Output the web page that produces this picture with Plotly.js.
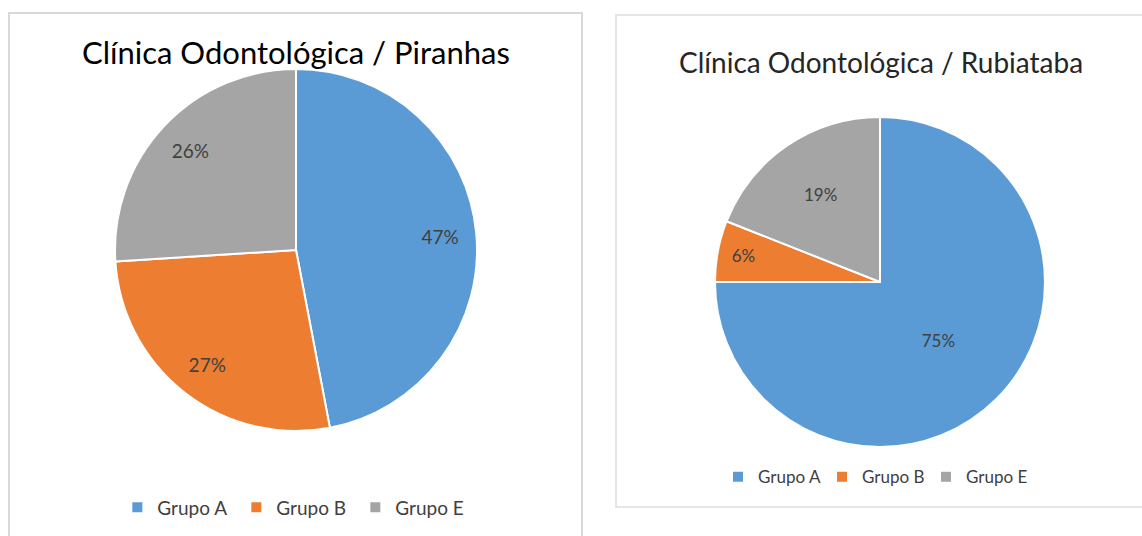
<!DOCTYPE html>
<html>
<head>
<meta charset="utf-8">
<script src="https://cdn.plot.ly/plotly-3.0.1.min.js"></script>
<style>
  html, body { margin: 0; padding: 0; background: #ffffff; width: 1142px; height: 536px; overflow: hidden; }
  #p1 { position: absolute; left: 8px; top: 12px; width: 575px; height: 524px; border: 2px solid #d9d9d9; border-bottom: none; box-sizing: border-box; }
  #p2 { position: absolute; left: 615px; top: 14px; width: 530px; height: 494px; border: 2px solid #e6e6e6; border-right: none; box-sizing: border-box; }
</style>
</head>
<body>
<div id="p1"></div>
<div id="p2"></div>
<script>
const labels = ["Grupo A", "Grupo B", "Grupo E"];
const piranhasValues = [47, 27, 26];
const rubiatabaValues = [75, 6, 19];
const colors = ["#5B9BD5", "#ED7D31", "#A5A5A5"];
const titles = ["Clínica Odontológica / Piranhas", "Clínica Odontológica / Rubiataba"];
const FONT = "Lato, 'Open Sans', sans-serif";

function pieTrace(values, dom, fs, showText) {
  return {
    type: "pie",
    labels: labels,
    values: values,
    sort: false,
    direction: "clockwise",
    rotation: 0,
    marker: { colors: colors, line: { color: "#ffffff", width: 2 } },
    textinfo: showText ? "percent" : "none",
    textposition: "inside",
    insidetextorientation: "horizontal",
    texttemplate: showText ? "%{percent:.0%}" : "",
    textfont: { family: FONT, size: fs, color: "#404040" },
    hoverinfo: "label+percent",
    domain: dom
  };
}

// transparent ring carrying the labels further out (library-placed)
function labelRing(values, dom, fs, hole) {
  return {
    type: "pie",
    labels: labels,
    values: values,
    sort: false,
    direction: "clockwise",
    rotation: 0,
    hole: hole,
    showlegend: false,
    marker: { colors: ["rgba(0,0,0,0)", "rgba(0,0,0,0)", "rgba(0,0,0,0)"], line: { width: 0 } },
    textinfo: "percent",
    textposition: "inside",
    insidetextorientation: "horizontal",
    texttemplate: "%{percent:.0%}",
    textfont: { family: FONT, size: fs, color: "#404040" },
    hoverinfo: "skip",
    domain: dom
  };
}

const cfg = { displayModeBar: false, staticPlot: true };

const dom1 = { x: [0.1839, 0.8179], y: [0.2011, 0.8946] };
Plotly.newPlot("p1", [pieTrace(piranhasValues, dom1, 19, false), labelRing(piranhasValues, dom1, 19, 0.6)], {
  width: 571, height: 522,
  margin: { l: 0, r: 0, t: 0, b: 0 },
  paper_bgcolor: "#ffffff",
  showlegend: true,
  legend: {
    orientation: "h", x: 0.188, xanchor: "left", y: 0.055, yanchor: "middle",
    font: { family: FONT, size: 19, color: "#404040" },
    entrywidth: 74, traceorder: "normal", itemclick: false
  },
  annotations: [{
    text: titles[0], xref: "paper", yref: "paper", x: 0.5, y: 1 - 38 / 522,
    xanchor: "center", yanchor: "middle", showarrow: false,
    font: { family: FONT, size: 31, color: "#000000" }
  }]
}, cfg);

const dom2 = { x: [0.1856, 0.8106], y: [0.1204, 0.7939] };
Plotly.newPlot("p2", [pieTrace(rubiatabaValues, dom2, 17, true)], {
  width: 528, height: 490,
  margin: { l: 0, r: 0, t: 0, b: 0 },
  paper_bgcolor: "#ffffff",
  showlegend: true,
  legend: {
    orientation: "h", x: 0.1913, xanchor: "left", y: 0.0587, yanchor: "middle",
    font: { family: FONT, size: 17, color: "#404040" },
    entrywidth: 59, traceorder: "normal", itemclick: false
  },
  annotations: [{
    text: titles[1], xref: "paper", yref: "paper", x: 0.5, y: 1 - 46 / 490,
    xanchor: "center", yanchor: "middle", showarrow: false,
    font: { family: FONT, size: 28, color: "#262626" }
  }]
}, cfg);
</script>
</body>
</html>
